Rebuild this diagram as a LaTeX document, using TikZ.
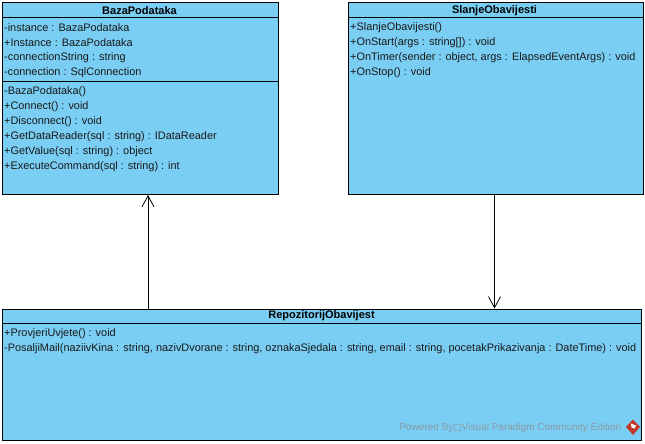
\documentclass[tikz,border=0pt]{standalone}
\usepackage{fontspec}
\setmainfont{Liberation Sans}
\newfontfamily\symfont{DejaVu Sans}
\usetikzlibrary{arrows.meta}
\definecolor{classfill}{HTML}{7ACEF4}
\definecolor{markgray}{HTML}{8A9AA3}
\definecolor{markred}{HTML}{C0392B}
\tikzset{
  classbox/.style={draw=black,fill=classfill,line width=1pt,anchor=north west,inner sep=0pt},
  classname/.style={font=\fontsize{11}{12}\selectfont\bfseries,inner sep=0pt,text=black},
  member/.style={font=\fontsize{10.9}{12}\selectfont,inner sep=0pt,anchor=west,text=black!90},
  divider/.style={line width=0.9pt},
  link/.style={line width=0.8pt,-{Straight Barb[length=11pt,width=12pt,line width=0.8pt]}},
  watermark/.style={font=\fontsize{10}{11}\selectfont,text=markgray,inner sep=0pt,anchor=east}
}
\begin{document}
\begin{tikzpicture}[x=1pt,y=-1pt]
\useasboundingbox (0,0) rectangle (645,444);
\fill[white] (0,0) rectangle (645,444);
% BazaPodataka
\node[classbox,minimum width=276pt,minimum height=191.5pt] (baza) at (2,2.5) {};
\node[classname] (bazaT) at (139.5,10.5) {BazaPodataka};
\draw[divider] (2,17.5) -- (278,17.5);
\draw[divider] (2,81) -- (278,81);
\node[member] (b1) at (4,28) {-instance : BazaPodataka};
\node[member] (b2) at (4,43) {+Instance : BazaPodataka};
\node[member] (b3) at (4,58) {-connectionString : string};
\node[member] (b4) at (4,73) {-connection : SqlConnection};
\node[member] (b5) at (4,92) {-BazaPodataka()};
\node[member] (b6) at (4,107) {+Connect() : void};
\node[member] (b7) at (4,122) {+Disconnect() : void};
\node[member] (b8) at (4,137) {+GetDataReader(sql : string) : IDataReader};
\node[member] (b9) at (4,152) {+GetValue(sql : string) : object};
\node[member] (b10) at (4,167) {+ExecuteCommand(sql : string) : int};
% SlanjeObavijesti
\node[classbox,minimum width=295pt,minimum height=191.5pt] (slanje) at (348,2.5) {};
\node[classname] (slanjeT) at (494.5,10.5) {SlanjeObavijesti};
\draw[divider] (348,17.5) -- (643,17.5);
\node[member] (s1) at (350,28) {+SlanjeObavijesti()};
\node[member] (s2) at (350,43) {+OnStart(args : string[]) : void};
\node[member] (s3) at (350,58) {+OnTimer(sender : object, args : ElapsedEventArgs) : void};
\node[member] (s4) at (350,73) {+OnStop() : void};
% RepozitorijObavijest
\node[classbox,minimum width=639pt,minimum height=131.5pt] (repo) at (2,308.5) {};
\node[classname] (repoT) at (321.5,316) {RepozitorijObavijest};
\draw[divider] (2,323.5) -- (641,323.5);
\node[member] (r1) at (4,334) {+ProvjeriUvjete() : void};
\node[member] (r2) at (4,349) {-PosaljiMail(naziivKina : string, nazivDvorane : string, oznakaSjedala : string, email : string, pocetakPrikazivanja : DateTime) : void};
% connectors
\coordinate (upX) at (148,0);
\coordinate (downX) at (494.5,0);
\draw[link] (repo.north -| upX) -- (baza.south -| upX);
\draw[link] (slanje.south -| downX) -- (repo.north -| downX);
% watermark
\node[watermark] (wm) at (621.5,427.5) {Powered By{\symfont\fontsize{9}{8}\selectfont □}Visual Paradigm Community Edition};
\fill[markred] (633,419.5) -- (640,427) -- (633,435) -- (626,427) -- cycle;
\fill[white] (631,423.5) -- (636,425.5) -- (634.5,428.5) -- (631.5,427.5) -- cycle;
\end{tikzpicture}
\end{document}
